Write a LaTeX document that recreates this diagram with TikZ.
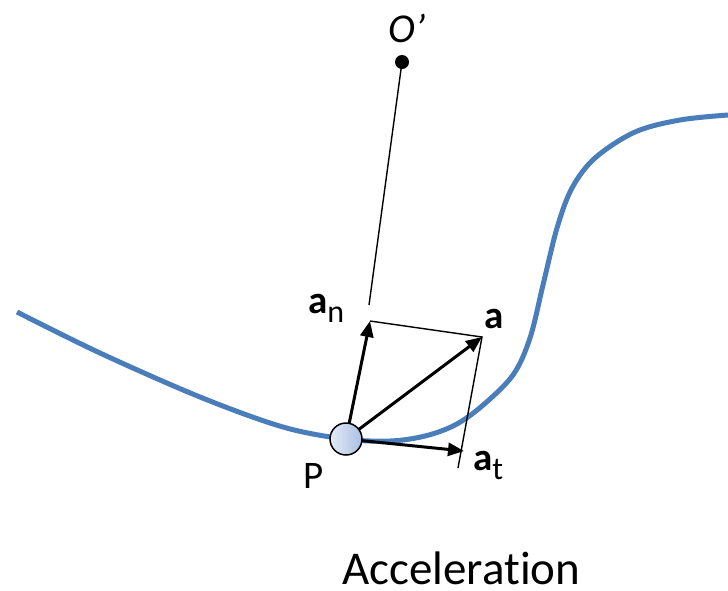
\documentclass[tikz,border=0pt]{standalone}
\usepackage{fontspec}
\setmainfont{Carlito}[Ligatures=NoCommon]
\usetikzlibrary{arrows.meta}
\definecolor{curveblue}{HTML}{4A7EBB}
\definecolor{ballL}{HTML}{E4EBF7}
\definecolor{ballR}{HTML}{A9BFE3}
\tikzset{
  vec/.style={line width=3pt,-{Triangle[length=16pt,width=13pt]}},
  thin/.style={line width=1.4pt},
  lbl/.style={inner sep=0pt,anchor=base west,font=\fontsize{39}{39}\selectfont},
}
\newcommand{\subn}[1]{\raisebox{-9pt}{\fontsize{32}{32}\selectfont #1}}
\begin{document}
\begin{tikzpicture}[x=1pt,y=-1pt]
\useasboundingbox (0,0) rectangle (728,590);
% curve
\draw[curveblue,line width=5pt] plot[smooth,tension=0.55] coordinates{
 (17,312) (100,353) (200,397) (283,427) (345,439) (390,441) (425,436) (455,425) (482,406) (513,375) (530,338) (543,285) (557,228) (572,188) (595,158) (635,132) (680,120) (728,115)};
% key points
\coordinate (pc) at (346,439);
\coordinate (an) at (370,321);
\coordinate (acc) at (482,337);
\coordinate (at) at (464,451);
\coordinate (atend) at (458,468);
\coordinate (rad) at (369,305);
\node[circle,fill=black,minimum size=14pt,inner sep=0pt] (o) at (402,62) {};
\draw[line width=1.4pt] (o.center) -- (rad);
% thin construction lines
\draw[thin] (an) -- (acc) -- (atend);
% vectors
\draw[vec] (pc) -- (an);
\draw[vec] (pc) -- (acc);
\draw[vec] (pc) -- (at);
% particle
\node[circle,draw=black,line width=1.5pt,left color=ballL,right color=ballR,minimum size=32pt,inner sep=0pt] (p) at (pc) {};
% labels
\node[lbl] (lan) at (308,313) {\textbf{a}\subn{n}};
\node[lbl] (la) at (484,328) {\textbf{a}};
\node[lbl] (lat) at (473,470) {\textbf{a}\subn{t}};
\node[lbl] (lp) at (303,488) {P};
\node[lbl,font=\fontsize{41}{41}\selectfont\itshape] (lo) at (388,42) {O’};
\node[inner sep=0pt,anchor=base west,font=\fontsize{47}{47}\selectfont] (title) at (342,584) {Acceleration};
\end{tikzpicture}
\end{document}
